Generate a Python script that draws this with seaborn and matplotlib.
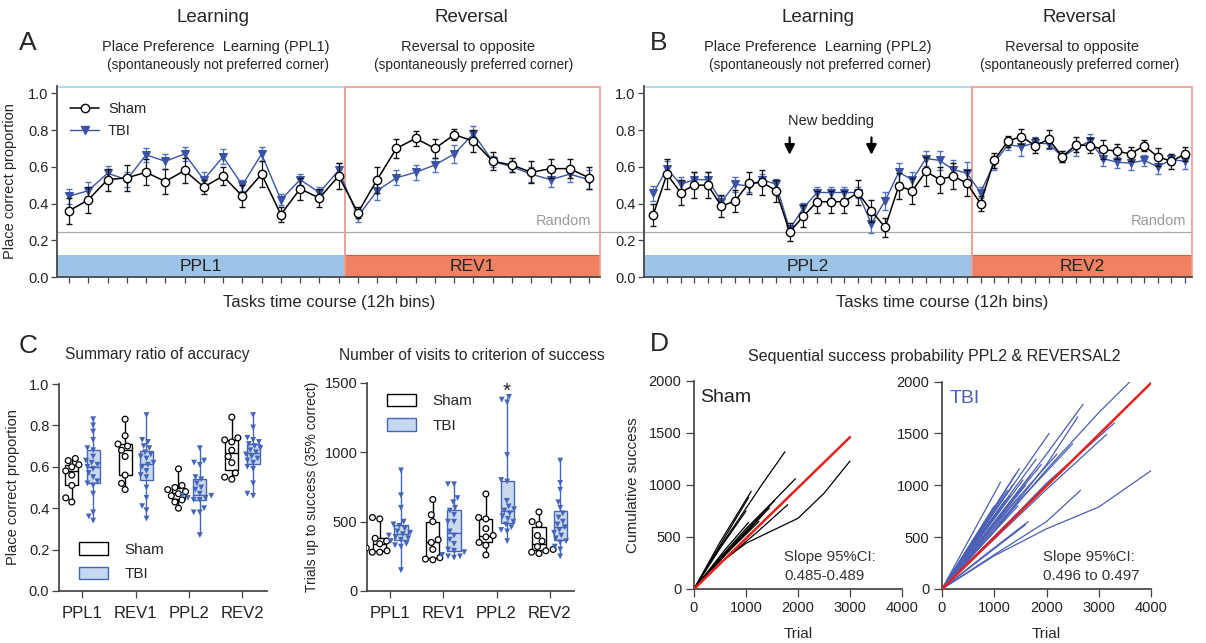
import numpy as np
import pandas as pd
import matplotlib
matplotlib.use("Agg")
import matplotlib.pyplot as plt
import seaborn as sns
from matplotlib.patches import Rectangle, Patch
from matplotlib.lines import Line2D

# ---------------- Data ----------------
# Panel A : place correct proportion per 12h bin (PPL1 = 15 bins, REV1 = 13 bins)
sham_a = [0.36, 0.42, 0.53, 0.54, 0.57, 0.52, 0.58, 0.49, 0.55, 0.44, 0.56, 0.34, 0.48, 0.43, 0.55,
          0.35, 0.53, 0.70, 0.755, 0.70, 0.775, 0.74, 0.63, 0.61, 0.57, 0.59, 0.59, 0.54]
sham_a_err = [0.07, 0.07, 0.06, 0.07, 0.07, 0.07, 0.07, 0.04, 0.05, 0.06, 0.07, 0.04, 0.06, 0.05, 0.07,
              0.03, 0.07, 0.05, 0.04, 0.05, 0.03, 0.06, 0.05, 0.04, 0.06, 0.05, 0.05, 0.06]
tbi_a = [0.44, 0.47, 0.565, 0.53, 0.665, 0.63, 0.67, 0.53, 0.655, 0.50, 0.67, 0.42, 0.53, 0.46, 0.58,
         0.33, 0.47, 0.54, 0.57, 0.61, 0.67, 0.78, 0.63, 0.60, 0.56, 0.53, 0.56, 0.53]
tbi_a_err = [0.04, 0.05, 0.04, 0.04, 0.04, 0.04, 0.04, 0.04, 0.04, 0.03, 0.04, 0.03, 0.03, 0.03, 0.04,
             0.03, 0.05, 0.04, 0.04, 0.04, 0.05, 0.04, 0.03, 0.03, 0.04, 0.04, 0.04, 0.05]
n_learn_a = 15

# Panel B : PPL2 = 24 bins, REV2 = 16 bins
sham_b = [0.34, 0.56, 0.46, 0.50, 0.50, 0.385, 0.415, 0.51, 0.515, 0.47, 0.245, 0.33, 0.41, 0.41, 0.41,
          0.46, 0.36, 0.27, 0.495, 0.47, 0.575, 0.53, 0.55, 0.51,
          0.40, 0.635, 0.74, 0.765, 0.715, 0.75, 0.655, 0.72, 0.715, 0.695, 0.685, 0.67, 0.715, 0.655, 0.63, 0.67]
sham_b_err = [0.06, 0.08, 0.07, 0.07, 0.07, 0.06, 0.06, 0.06, 0.07, 0.06, 0.05, 0.06, 0.06, 0.06, 0.06,
              0.07, 0.06, 0.05, 0.07, 0.07, 0.08, 0.07, 0.07, 0.07,
              0.04, 0.04, 0.03, 0.04, 0.04, 0.05, 0.03, 0.04, 0.04, 0.05, 0.04, 0.04, 0.03, 0.05, 0.04, 0.04]
tbi_b = [0.455, 0.59, 0.505, 0.53, 0.53, 0.41, 0.505, 0.495, 0.53, 0.505, 0.26, 0.375, 0.46, 0.46, 0.46,
         0.46, 0.29, 0.415, 0.57, 0.53, 0.645, 0.635, 0.585, 0.565,
         0.46, 0.62, 0.72, 0.71, 0.73, 0.725, 0.655, 0.70, 0.74, 0.645, 0.625, 0.62, 0.635, 0.60, 0.64, 0.63]
tbi_b_err = [0.04, 0.04, 0.04, 0.04, 0.04, 0.03, 0.04, 0.03, 0.03, 0.03, 0.02, 0.03, 0.03, 0.03, 0.03,
             0.03, 0.05, 0.05, 0.05, 0.04, 0.04, 0.05, 0.05, 0.06,
             0.03, 0.04, 0.03, 0.05, 0.03, 0.03, 0.03, 0.04, 0.04, 0.04, 0.03, 0.04, 0.03, 0.04, 0.03, 0.04]
n_learn_b = 24
bedding_bins = [11, 17]
random_level = 0.245

# Panel C : per-animal values
tasks = ["PPL1", "REV1", "PPL2", "REV2"]
acc_sham_ppl1 = [0.64, 0.63, 0.61, 0.60, 0.58, 0.56, 0.51, 0.45, 0.43]
acc_sham_rev1 = [0.83, 0.75, 0.71, 0.70, 0.68, 0.65, 0.56, 0.52, 0.49]
acc_sham_ppl2 = [0.59, 0.51, 0.50, 0.49, 0.48, 0.47, 0.46, 0.44, 0.43, 0.40]
acc_sham_rev2 = [0.84, 0.74, 0.73, 0.72, 0.68, 0.65, 0.62, 0.57, 0.55, 0.54]
acc_tbi_ppl1 = [0.83, 0.80, 0.77, 0.73, 0.69, 0.68, 0.65, 0.63, 0.62, 0.61, 0.60, 0.59, 0.57, 0.55,
                0.53, 0.52, 0.51, 0.47, 0.38, 0.36, 0.34]
acc_tbi_rev1 = [0.85, 0.73, 0.72, 0.70, 0.69, 0.67, 0.66, 0.65, 0.64, 0.62, 0.61, 0.60, 0.58, 0.56,
                0.55, 0.50, 0.45, 0.41, 0.39, 0.35]
acc_tbi_ppl2 = [0.69, 0.63, 0.62, 0.61, 0.55, 0.54, 0.52, 0.50, 0.49, 0.47, 0.46, 0.46, 0.45, 0.45,
                0.44, 0.44, 0.40, 0.38, 0.38, 0.27]
acc_tbi_rev2 = [0.85, 0.79, 0.74, 0.73, 0.72, 0.71, 0.70, 0.69, 0.68, 0.67, 0.66, 0.65, 0.64, 0.63,
                0.62, 0.60, 0.59, 0.52, 0.47, 0.46]

vis_sham_ppl1 = [530, 520, 380, 360, 340, 310, 290, 280, 280]
vis_sham_rev1 = [660, 550, 500, 370, 350, 300, 240, 230, 225]
vis_sham_ppl2 = [700, 530, 520, 450, 400, 390, 350, 330, 260]
vis_sham_rev2 = [570, 500, 480, 400, 360, 320, 300, 290, 280, 270]
vis_tbi_ppl1 = [870, 690, 600, 500, 480, 470, 450, 430, 420, 410, 400, 390, 380, 370, 360, 340,
                330, 320, 150]
vis_tbi_rev1 = [770, 770, 670, 640, 600, 580, 550, 500, 500, 430, 400, 370, 340, 300, 290, 280,
                260, 250, 250, 240]
vis_tbi_ppl2 = [1400, 1380, 1360, 980, 800, 790, 650, 610, 590, 580, 560, 540, 520, 500, 480, 460,
                440, 430, 360]
vis_tbi_rev2 = [940, 780, 730, 640, 600, 560, 530, 500, 480, 460, 440, 420, 400, 380, 360, 350,
                320, 300, 250]

# Panel D : cumulative success curves (trial, success) per animal
sham_curves = [
    ([0, 400, 900, 1300, 1750], [0, 330, 700, 1000, 1320]),
    ([0, 500, 1000, 1500, 1950], [0, 300, 580, 830, 1060]),
    ([0, 500, 1000, 1500, 2000, 2500, 3000], [0, 250, 440, 560, 680, 920, 1230]),
    ([0, 600, 1200, 1800], [0, 290, 540, 810]),
    ([0, 500, 1000, 1550], [0, 290, 560, 850]),
    ([0, 500, 1100], [0, 450, 940]),
    ([0, 500, 1050], [0, 420, 880]),
    ([0, 500, 1000], [0, 390, 750]),
    ([0, 600, 1300], [0, 330, 700]),
    ([0, 700, 1450], [0, 390, 780]),
    ([0, 600, 1200], [0, 330, 650]),
    ([0, 450, 900], [0, 260, 500]),
    ([0, 600, 1050], [0, 380, 640]),
    ([0, 500, 1250], [0, 280, 650]),
]
tbi_curves = [
    ([0, 1000, 2000, 3000, 3600], [0, 560, 1150, 1700, 2000]),
    ([0, 1000, 2000, 2700], [0, 640, 1300, 1780]),
    ([0, 1000, 2000, 2600], [0, 560, 1200, 1660]),
    ([0, 1000, 2050], [0, 740, 1500]),
    ([0, 1000, 2000, 3300], [0, 500, 1020, 1600]),
    ([0, 1000, 2000, 3150], [0, 480, 960, 1490]),
    ([0, 1000, 2000, 3000, 4000], [0, 320, 580, 790, 1140]),
    ([0, 1000, 2000, 2650], [0, 330, 650, 950]),
    ([0, 1120], [0, 1030]),
    ([0, 1480], [0, 1160]),
    ([0, 800, 1650], [0, 320, 650]),
    ([0, 1000, 2200], [0, 620, 1300]),
    ([0, 1200, 2500], [0, 700, 1400]),
    ([0, 900, 1800], [0, 640, 1250]),
    ([0, 1400], [0, 1100]),
    ([0, 1600], [0, 1000]),
    ([0, 1300], [0, 900]),
    ([0, 1200], [0, 850]),
    ([0, 1000], [0, 800]),
    ([0, 900], [0, 700]),
    ([0, 1500], [0, 900]),
    ([0, 1700], [0, 1100]),
    ([0, 1250], [0, 950]),
    ([0, 1000, 1900], [0, 640, 1200]),
    ([0, 1100], [0, 750]),
    ([0, 1200, 2300], [0, 610, 1150]),
    ([0, 1450], [0, 800]),
    ([0, 800], [0, 550]),
    ([0, 1600], [0, 620]),
    ([0, 1350], [0, 1000]),
    ([0, 1550], [0, 1050]),
    ([0, 1150], [0, 900]),
]
fit_sham_x, fit_sham_y = [0, 3000], [0, 1460]
fit_tbi_x, fit_tbi_y = [0, 4000], [0, 1985]

# ---------------- Style ----------------
sns.set_theme(style="ticks")
plt.rcParams['font.family'] = ['Liberation Sans', 'DejaVu Sans']
plt.rcParams['axes.edgecolor'] = '#444444'
plt.rcParams['xtick.color'] = '#444444'
plt.rcParams['ytick.color'] = '#444444'
plt.rcParams['xtick.labelcolor'] = '#222222'
plt.rcParams['ytick.labelcolor'] = '#222222'

BLUE = '#3a53a6'
BLUE_ERR = '#4f72c8'
PPL_FILL, PPL_EDGE = '#9dc3e6', '#9fd3f2'
REV_FILL, REV_EDGE = '#f08263', '#f39a8a'
TBI_FILL, TBI_EDGE = '#c5d8f1', '#4566b8'
TBI_LINE = '#4a5fb5'
RED = '#e8211c'

W, H = 1206, 643


def px_box(l, t, r, b):
    return [l / W, 1 - b / H, (r - l) / W, (b - t) / H]


def ftext(x, y, s, **kw):
    fig.text(x / W, 1 - y / H, s, ha=kw.pop('ha', 'center'), va=kw.pop('va', 'center'), **kw)


fig = plt.figure(figsize=(W / 100, H / 100), dpi=100)
axA = fig.add_axes(px_box(57, 86, 600, 277))
axB = fig.add_axes(px_box(644, 86, 1192, 277))
axC1 = fig.add_axes(px_box(59, 384, 267, 591))
axC2 = fig.add_axes(px_box(367, 383, 574, 591))
axD1 = fig.add_axes(px_box(694, 381, 902, 589))
axD2 = fig.add_axes(px_box(942, 381.5, 1151, 589))


def time_course(ax, sham, sham_err, tbi, tbi_err, n_learn, xlim, split, lab_learn, lab_rev):
    bins = np.arange(1, len(sham) + 1)
    ax.set_xlim(*xlim)
    ax.set_ylim(0, 1.04)
    # phase bands + outline boxes
    ax.add_patch(Rectangle((xlim[0], 0), split - xlim[0], 0.12, facecolor=PPL_FILL, edgecolor='none', zorder=1))
    ax.add_patch(Rectangle((split, 0), xlim[1] - split, 0.12, facecolor=REV_FILL, edgecolor='#e0573a', lw=0.8, zorder=1))
    ax.add_patch(Rectangle((xlim[0], 0), split - xlim[0], 1.035, fill=False, edgecolor=PPL_EDGE, lw=1.2, zorder=1.5, clip_on=False))
    ax.add_patch(Rectangle((split, 0), xlim[1] - split, 1.035, fill=False, edgecolor=REV_EDGE, lw=1.2, zorder=1.5, clip_on=False))
    ax.text((xlim[0] + split) / 2, 0.058, lab_learn, ha='center', va='center', fontsize=12.5, color='#222222')
    ax.text((split + xlim[1]) / 2, 0.058, lab_rev, ha='center', va='center', fontsize=12.5, color='#222222')
    ax.axhline(random_level, color='#aaaaaa', lw=0.9, zorder=1.2)
    ax.text(bins[-1] + 0.1, 0.305, 'Random', ha='right', va='center', color='#9a9a9a', fontsize=10.5)
    # TBI then Sham on top
    sns.lineplot(x=bins, y=tbi, ax=ax, color=BLUE, lw=1.0, marker='v', markersize=6,
                 markeredgecolor=BLUE, errorbar=None, zorder=3)
    ax.errorbar(bins, tbi, yerr=tbi_err, fmt='none', ecolor=BLUE_ERR, elinewidth=0.9, capsize=2, zorder=2.8)
    sns.lineplot(x=bins, y=sham, ax=ax, color='black', lw=1.1, marker='o', markersize=6,
                 markerfacecolor='white', markeredgecolor='black', markeredgewidth=1.0, errorbar=None, zorder=5)
    ax.errorbar(bins, sham, yerr=sham_err, fmt='none', ecolor='#111111', elinewidth=0.9, capsize=2, zorder=4.5)
    ax.set_xticks(bins)
    ax.set_xticklabels([])
    ax.set_yticks(np.arange(0, 1.01, 0.2))
    ax.set_yticklabels([f'{v:.1f}' for v in np.arange(0, 1.01, 0.2)], fontsize=10.5)
    ax.tick_params(axis='x', length=4, width=0.9)
    ax.tick_params(axis='y', length=4, width=0.9, pad=2)
    for s in ['top', 'right']:
        ax.spines[s].set_visible(False)
    ax.set_xlabel('')
    ax.set_ylabel('')


time_course(axA, sham_a, sham_a_err, tbi_a, tbi_a_err, n_learn_a, (0.377, 28.57), 15.33, 'PPL1', 'REV1')
time_course(axB, sham_b, sham_b_err, tbi_b, tbi_b_err, n_learn_b, (0.318, 40.51), 24.36, 'PPL2', 'REV2')

# random line continues across the gap between A and B
pa, pb = axA.get_position(), axB.get_position()
axA.axhline(random_level, xmin=1, xmax=1 + (pb.x0 - pa.x1) / pa.width, color='#aaaaaa', lw=0.9, clip_on=False)

axA.set_ylabel('Place correct proportion', fontsize=10.5, labelpad=8)
leg_handles = [Line2D([], [], color='black', marker='o', mfc='white', mec='black', ms=6, lw=1.1),
               Line2D([], [], color=BLUE, marker='v', mfc=BLUE, mec=BLUE, ms=6, lw=1.0)]
axA.legend(leg_handles, ['Sham', 'TBI'], loc='upper left', bbox_to_anchor=(0.0, 0.985), frameon=False,
           fontsize=10.5, handlelength=2.0, handletextpad=0.6, labelspacing=0.55)

# new bedding arrows
for b in bedding_bins:
    axB.annotate('', xy=(b, 0.65), xytext=(b, 0.775),
                 arrowprops=dict(arrowstyle='-|>', color='black', lw=1.6, mutation_scale=15))
axB.text(np.mean(bedding_bins), 0.85, 'New bedding', ha='center', va='center', fontsize=10.5)

for cx in [329, 942]:
    ftext(cx, 302, 'Tasks time course (12h bins)', fontsize=12)

# headers
for x, s in [(213, 'Learning'), (471, 'Reversal'), (818, 'Learning'), (1079, 'Reversal')]:
    ftext(x, 18, s, fontsize=13.5)
ftext(216, 47, 'Place Preference  Learning (PPL1)', fontsize=10.5)
ftext(218, 65, '(spontaneously not preferred corner)', fontsize=9.8)
ftext(468, 47, 'Reversal to opposite', fontsize=10.5)
ftext(474, 65, '(spontaneously preferred corner)', fontsize=9.8)
ftext(818, 47, 'Place Preference  Learning (PPL2)', fontsize=10.5)
ftext(820, 65, '(spontaneously not preferred corner)', fontsize=9.8)
ftext(1072, 47, 'Reversal to opposite', fontsize=10.5)
ftext(1080, 65, '(spontaneously preferred corner)', fontsize=9.8)
ftext(28, 43, 'A', fontsize=19)
ftext(659, 43, 'B', fontsize=19)
ftext(28, 346, 'C', fontsize=19)
ftext(659, 344, 'D', fontsize=19)


# ---------------- Panel C ----------------
def long_table(sham_lists, tbi_lists):
    rows = []
    for task, vals in zip(tasks, sham_lists):
        rows += [(task, 'Sham', v) for v in vals]
    for task, vals in zip(tasks, tbi_lists):
        rows += [(task, 'TBI', v) for v in vals]
    return pd.DataFrame(rows, columns=['task', 'group', 'value'])


acc = long_table([acc_sham_ppl1, acc_sham_rev1, acc_sham_ppl2, acc_sham_rev2],
                 [acc_tbi_ppl1, acc_tbi_rev1, acc_tbi_ppl2, acc_tbi_rev2])
vis = long_table([vis_sham_ppl1, vis_sham_rev1, vis_sham_ppl2, vis_sham_rev2],
                 [vis_tbi_ppl1, vis_tbi_rev1, vis_tbi_ppl2, vis_tbi_rev2])

box_style = {'Sham': ('white', 'black', 'o', 'white', 'black', 0.9),
             'TBI': (TBI_FILL, TBI_EDGE, 'v', TBI_EDGE, TBI_EDGE, 0.0)}


def summary_boxes(ax, df):
    for grp, (fill, edge, mk, mfill, medge, mlw) in box_style.items():
        sub = df[df.group == grp]
        sns.boxplot(data=sub, x='task', y='value', hue='group', hue_order=['Sham', 'TBI'], order=tasks,
                    palette={'Sham': fill, 'TBI': fill}, linecolor=edge, linewidth=1.0, whis=(0, 100),
                    showcaps=False, showfliers=False, width=0.8, gap=0.38, dodge=True, legend=False, ax=ax)
        sns.swarmplot(data=sub, x='task', y='value', hue='group', hue_order=['Sham', 'TBI'], order=tasks,
                      palette={'Sham': mfill, 'TBI': mfill}, marker=mk, size=4.2, edgecolor=medge,
                      linewidth=mlw, dodge=True, legend=False, ax=ax, zorder=4)
    ax.set_xlim(-0.44, 3.46)
    ax.set_xlabel('')
    for s in ['top', 'right']:
        ax.spines[s].set_visible(False)
    ax.tick_params(axis='x', length=5, width=0.9, labelsize=12, pad=6)
    ax.tick_params(axis='y', length=5, width=0.9, labelsize=10.5, pad=2)


summary_boxes(axC1, acc)
axC1.set_ylim(0, 1.0)
axC1.set_yticks(np.arange(0, 1.01, 0.2))
axC1.set_yticklabels([f'{v:.1f}' for v in np.arange(0, 1.01, 0.2)])
axC1.set_ylabel('Place correct proportion', fontsize=10.5, labelpad=6)
ftext(157, 355, 'Summary ratio of accuracy', fontsize=11.2)

summary_boxes(axC2, vis)
axC2.set_ylim(0, 1500)
axC2.set_yticks([0, 500, 1000, 1500])
axC2.set_ylabel('Trials up to success (35% correct)', fontsize=10, labelpad=4)
ftext(472, 355, 'Number of visits to criterion of success', fontsize=11.2)
axC2.text(2.2, 1440, '*', ha='center', va='center', fontsize=15)

patch_handles = [Patch(facecolor='white', edgecolor='black', lw=1.0),
                 Patch(facecolor=TBI_FILL, edgecolor=TBI_EDGE, lw=1.0)]
axC1.legend(patch_handles, ['Sham', 'TBI'], loc='lower left', bbox_to_anchor=(0.03, -0.02), frameon=False,
            fontsize=11, handlelength=1.9, handleheight=0.9, handletextpad=1.1, labelspacing=0.65)
axC2.legend(patch_handles, ['Sham', 'TBI'], loc='upper left', bbox_to_anchor=(0.03, 1.015), frameon=False,
            fontsize=11, handlelength=1.9, handleheight=0.9, handletextpad=1.1, labelspacing=0.65)


# ---------------- Panel D ----------------
def curve_table(curves):
    rows = []
    for i, (xs, ys) in enumerate(curves):
        rows += [(i, x, y) for x, y in zip(xs, ys)]
    return pd.DataFrame(rows, columns=['animal', 'trial', 'success'])


def cumulative(ax, curves, color, fit_x, fit_y, label, label_color, slope_txt, slope_x):
    sns.lineplot(data=curve_table(curves), x='trial', y='success', units='animal', estimator=None,
                 color=color, lw=0.9, sort=False, ax=ax)
    sns.lineplot(x=fit_x, y=fit_y, color=RED, lw=1.8, ax=ax, zorder=5)
    ax.set_xlim(0, 4000)
    ax.set_ylim(0, 2000)
    ax.set_xticks([0, 1000, 2000, 3000, 4000])
    ax.set_yticks([0, 500, 1000, 1500, 2000])
    for s in ['top', 'right']:
        ax.spines[s].set_visible(False)
    ax.tick_params(length=6, width=0.9, labelsize=10.5, pad=3)
    ax.set_xlabel('Trial', fontsize=11, labelpad=8)
    ax.set_ylabel('')
    ax.text(110 if label == 'Sham' else 150, 1840, label, color=label_color, fontsize=14, va='center')
    ax.text(slope_x, 220, slope_txt, fontsize=10.8, color='#333333', va='center', linespacing=1.45)


cumulative(axD1, sham_curves, 'black', fit_sham_x, fit_sham_y, 'Sham', '#222222', 'Slope 95%CI:\n0.485-0.489', 1730)
cumulative(axD2, tbi_curves, TBI_LINE, fit_tbi_x, fit_tbi_y, 'TBI', TBI_LINE, 'Slope 95%CI:\n0.496 to 0.497', 1925)
axD1.set_ylabel('Cumulative success', fontsize=11, labelpad=6)
ftext(934, 356, 'Sequential success probability PPL2 & REVERSAL2', fontsize=11.5)

fig.savefig('out.png', dpi=100)
